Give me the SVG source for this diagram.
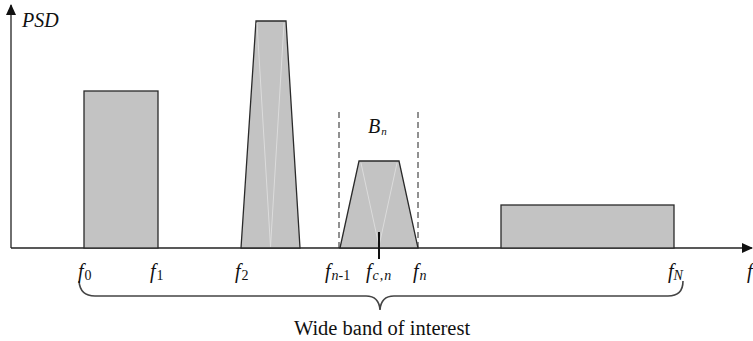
<svg xmlns="http://www.w3.org/2000/svg" width="753" height="341" viewBox="0 0 753 341">
<style>
.band{fill:#c3c3c3;stroke:#2a2a2a;stroke-width:1.3}
.ghost{stroke:#dcdcdc;stroke-width:1;fill:none}
.axis{stroke:#222;stroke-width:1.3;fill:none}
.dash{stroke:#222;stroke-width:1;stroke-dasharray:6,4;fill:none}
.brace{stroke:#444;stroke-width:1.6;fill:none}
.t{font-family:'Liberation Serif','Times New Roman',serif;fill:#111}
.lbl{font-style:italic;font-size:20px}
.sub{font-size:14px}
</style>
<defs>
<marker id="arr" markerWidth="11" markerHeight="10" refX="10" refY="5" orient="auto" markerUnits="userSpaceOnUse">
<path d="M0,0 L11,5 L0,10 Z" fill="#111"/>
</marker>
</defs>
<g id="connectors">
<line class="axis" x1="11" y1="248" x2="11" y2="5" marker-end="url(#arr)"/>
<line class="axis" x1="11" y1="248" x2="752" y2="248" marker-end="url(#arr)"/>
<line class="dash" x1="339" y1="112" x2="339" y2="248"/>
<line class="dash" x1="418" y1="112" x2="418" y2="248"/>
<path class="brace" d="M79,281 Q80,296 95,296 L366,296 Q379,296 380,310 Q381,296 394,296 L668,296 Q683,296 683,281"/>
</g>
<g id="band1"><rect class="band" x="84" y="91" width="74" height="157"/></g>
<g id="band2">
<polygon class="band" points="241,248 256,21 286,21 300,248"/>
<path class="ghost" d="M257,23 L270.5,247 L284,23"/>
</g>
<g id="bandn">
<polygon class="band" points="340,248 359,161 399,161 418,248"/>
<path class="ghost" d="M361,163 L379,246 L397,163"/>
<line x1="379" y1="232" x2="379" y2="259" stroke="#111" stroke-width="2"/>
</g>
<g id="bandN"><rect class="band" x="501" y="205" width="173" height="43"/></g>
<g id="labels">
<text class="t lbl" x="22" y="27" font-size="21">PSD</text>
<text class="t lbl" x="368" y="133" font-size="16">B<tspan font-size="11" dx="1" dy="2">n</tspan></text>
<text class="t lbl" x="78" y="278">f<tspan class="sub" font-style="normal" dx="1" dy="2">0</tspan></text>
<text class="t lbl" x="150" y="278">f<tspan class="sub" font-style="normal" dx="1" dy="2">1</tspan></text>
<text class="t lbl" x="235" y="278">f<tspan class="sub" font-style="normal" dx="1" dy="2">2</tspan></text>
<text class="t lbl" x="325" y="278">f<tspan class="sub" dx="1" dy="2">n</tspan><tspan class="sub" font-style="normal">-1</tspan></text>
<text class="t lbl" x="366" y="278">f<tspan class="sub" dx="1" dy="2" letter-spacing="1">c,n</tspan></text>
<text class="t lbl" x="413" y="278">f<tspan class="sub" dx="1" dy="2">n</tspan></text>
<text class="t lbl" x="668" y="278">f<tspan class="sub" dx="0" dy="2">N</tspan></text>
<text class="t lbl" x="747" y="278">f</text>
<text class="t" x="382" y="335" font-size="20.5" text-anchor="middle">Wide band of interest</text>
</g>
</svg>
